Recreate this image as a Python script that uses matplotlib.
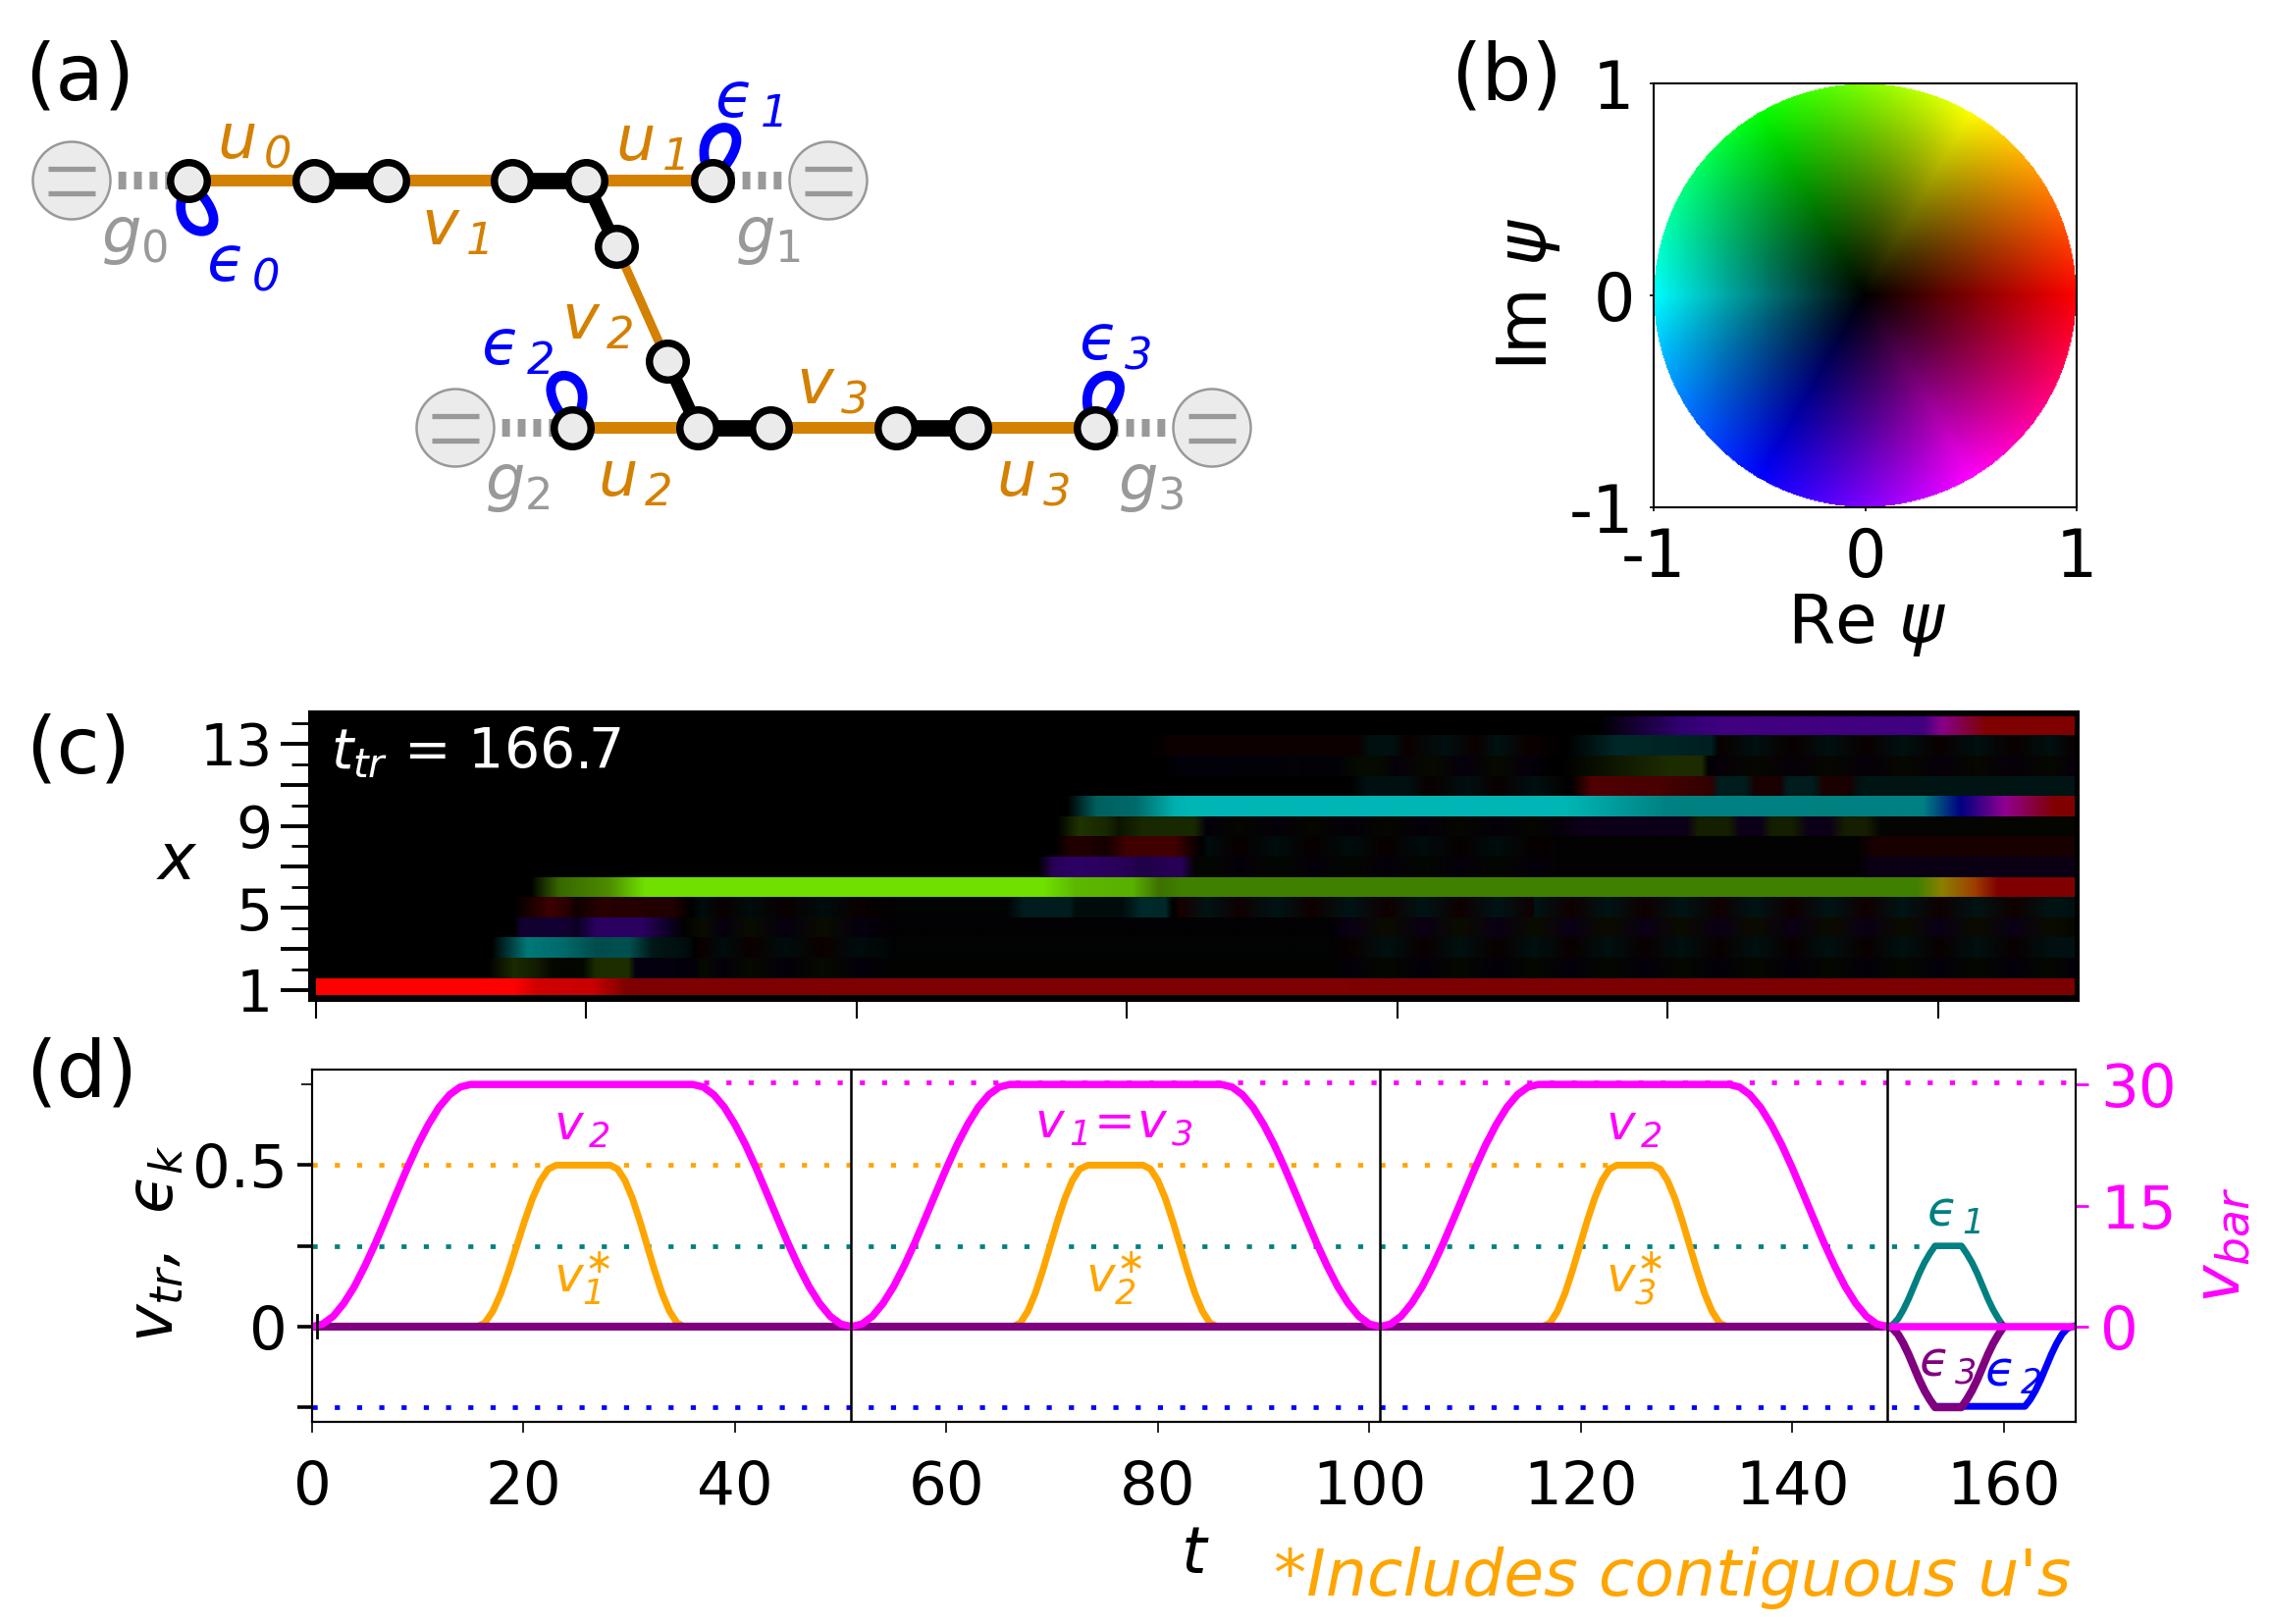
import numpy as np
import matplotlib
matplotlib.use('Agg')
import matplotlib.pyplot as plt
from matplotlib.colors import LinearSegmentedColormap, hsv_to_rgb
from matplotlib.patches import Circle, PathPatch
from matplotlib.path import Path

plt.rcParams['font.family'] = ['DejaVu Sans']
plt.rcParams['mathtext.fontset'] = 'custom'
plt.rcParams['mathtext.rm'] = 'DejaVu Sans:italic'
plt.rcParams['mathtext.it'] = 'DejaVu Sans:italic'
plt.rcParams['mathtext.sf'] = 'DejaVu Sans'

W, H = 2312, 1655

# ---- panel (a): the chain, in image pixels
node_x = [192, 320, 395, 522, 597, 726, 628, 680, 583, 711, 785, 913, 988, 1116]
node_y = [184, 184, 184, 184, 184, 184, 251, 368, 436, 436, 436, 436, 436, 436]
u_edges = [(0, 1), (2, 3), (4, 5), (8, 9), (10, 11), (12, 13)]
black_edges = [(1, 2), (3, 4), (9, 10), (11, 12)]
black_diag = [(4, 6), (7, 9)]
thin_edges = [(6, 7)]
res_x = [73, 844, 464, 1235]
res_y = [184, 184, 436, 436]
res_node = [0, 5, 8, 13]
loop_node = [0, 5, 8, 13]
loop_ctrl_y = [253, 112, 365, 365]
loop_ctrl_x = [(155, 265), (687, 797), (517, 627), (1078, 1188)]

net_labels = [r'$u_{\,0}$', r'$u_{\,1}$', r'$u_{\,2}$', r'$u_{\,3}$',
              r'$v_{\,1}$', r'$v_{\,2}$', r'$v_{\,3}$']
net_label_x = [259, 663, 647, 1053, 463, 608, 847]
net_label_y = [143, 145, 487, 487, 232, 327, 393]
eps_labels = [r'$ϵ_{\,0}$', r'$ϵ_{\,1}$', r'$ϵ_{\,2}$', r'$ϵ_{\,3}$']
eps_label_x = [247, 763, 527, 1136]
eps_label_y = [268, 102, 354, 348]
g_labels = [r'$g_\mathsf{0}$', r'$g_\mathsf{1}$', r'$g_\mathsf{2}$', r'$g_\mathsf{3}$']
g_label_x = [137, 782, 527, 1173]
g_label_y = [241, 241, 493, 493]

# ---- panel (c): colour stops along each site, (t, colour)
T_END = 166.7
k = '#000000'


def alternating(times, a, b):
    return [(t, a if i % 2 == 0 else b) for i, t in enumerate(times)]


early_t = [36.5, 38.6, 41, 44.5, 48, 51.5]
tail_t = [98, 101.5, 105, 108.5, 112, 115.5, 119, 122.5, 126, 129.5, 133, 136.5,
          140, 143.5, 147, 150.5, 154, 157.5, 161, 164.5]
late_t = [84.5, 87.5, 91, 94.5, 98, 101.5, 105, 108.5, 112, 115.5]

row_01 = [(0, '#ff0000'), (18.7, '#ff0000'), (20.9, '#d00000'), (26.2, '#c80000'), (29.3, '#800000'), (T_END, '#7c0000')]
row_02 = ([(0, k), (16.2, k), (18.7, '#1a2a00'), (20.6, '#141e00'), (22.5, '#040600'), (25.2, '#040600'),
           (26.5, '#1c2e00'), (29.6, '#1c2e00'), (30.2, '#060010'), (36, '#04000a')]
          + alternating(early_t, '#060a00', '#04000a')
          + [(55, '#020300'), (96, '#020300')]
          + alternating(tail_t, '#04000a', '#040800') + [(T_END, '#04000a')])
row_03 = ([(0, k), (16.6, k), (20, '#007878'), (23.4, '#006a6a'), (26.5, '#004c4c'), (29.6, '#005050'),
           (31.8, '#001818'), (35.2, '#000c0c'), (35.8, k)]
          + alternating(early_t, '#0c0000', '#000c0c')
          + [(55, '#020303'), (96, '#020303')]
          + alternating(tail_t, '#0a0000', '#001010') + [(T_END, '#001010')])
row_04 = ([(0, k), (18.7, k), (19.4, '#120030'), (24, '#120030'), (24.6, '#0c0020'), (26.5, '#2a0060'),
           (30.8, '#2a0060'), (33.6, '#0c0020'), (34.9, '#020200')]
          + alternating(early_t, '#0a0c00', '#06000e')
          + [(55, '#020103'), (96, '#020103')]
          + alternating(tail_t, '#0a0014', '#0a0c00') + [(T_END, '#060800')])
row_05 = ([(0, k), (18.7, k), (22.1, '#3c0000'), (23.8, '#280000'), (24.6, '#100000'), (27.1, '#280000'),
           (33.9, '#200000'), (35.5, k)]
          + alternating(early_t, '#000c0c', '#0a0000')
          + [(55, '#020303'), (65.5, '#020303'), (67, '#001c1c'), (71.5, '#001c1c'), (72, '#000c0c'), (76.4, '#000c0c'),
             (78.3, '#002a2a'), (80.5, '#002828'), (81.2, k), (82, '#180000')]
          + alternating(late_t + tail_t[5:], '#001414', '#100000') + [(T_END, '#001010')])
row_06 = [(0, k), (20.3, k), (23, '#386800'), (27.7, '#4c8c00'), (31.1, '#70e000'), (69, '#70e000'),
          (72, '#5cb800'), (77.4, '#58b000'), (80, '#3e7000'), (82, '#408000'), (151.8, '#408000'),
          (154.2, '#8a8000'), (157.2, '#a04000'), (159.5, '#800000'), (T_END, '#800000')]
row_07 = ([(0, k), (68.4, k), (69.9, '#280058'), (72.1, '#2e0066'), (76.4, '#280058'), (78.3, '#200048'),
           (82, '#280058'), (83.3, '#040404')]
          + alternating(late_t, '#030700', '#05000a')
          + [(118, '#020202'), (146, '#020202'), (147.5, '#0a0014'), (T_END, '#0a0014')])
row_08 = ([(0, k), (69.9, k), (71.5, '#200000'), (73, '#200000'), (74.9, '#140000'), (76.8, '#400000'),
           (81.4, '#400000'), (83.3, '#100000'), (84, k)]
          + alternating(late_t, '#000c0c', '#080000')
          + [(118, '#020202'), (146, '#020202'), (147.7, '#180000'), (T_END, '#180000')])
row_09 = ([(0, k), (70.2, k), (72.4, '#203400'), (74.9, '#182800'), (76.1, '#0c1400'), (78.3, '#182800'),
           (83.3, '#182800'), (84.4, '#04000c')]
          + alternating(late_t, '#05000a', '#040700')
          + [(118, '#06000c'), (120, '#0c0018'), (130, '#0c0018'), (131, '#141e00'), (134, '#141e00'),
             (135, '#0c0018'), (137, '#0c0018'), (138, '#141e00'), (140, '#141e00'), (141.5, '#0c0018'),
             (143.5, '#0c0018'), (145, '#141e00'), (147, '#141e00'), (148.5, '#040404'), (T_END, '#040600')])
row_10 = [(0, k), (71.2, k), (74, '#006060'), (77.7, '#006a6a'), (81.4, '#00b0b0'), (82.6, '#00b5b5'),
          (118.6, '#00b5b5'), (128.1, '#008080'), (152.4, '#008080'), (156, '#000080'), (160.2, '#900090'),
          (164.9, '#800000'), (T_END, '#800000')]
row_11 = ([(0, k), (98, k), (99.7, '#001010'), (103.4, '#001010'), (105.5, '#0a0000'), (109.3, '#001010'),
           (112, '#0a0000'), (115.5, '#001010')]
          + [(118, '#040404'), (119, k), (121, '#500000'), (127.5, '#480000'), (132.3, '#300000'), (133, '#001c1c'),
             (135.5, '#001c1c'), (136.5, '#1a0000'), (138.8, '#1a0000'), (139.5, '#001c1c'), (142, '#001c1c'),
             (143, '#1a0000'), (145.3, '#1a0000'), (146.5, '#001414'), (T_END, '#001414')])
row_12 = ([(0, k), (80, k), (82, '#03000a'), (97, '#020306'), (98.8, '#060a00'), (101, '#060a00'), (102.3, '#06000c'),
           (105.6, '#060a00'), (109, '#06000c'), (112, '#060a00'), (115, '#06000c'), (117, k), (118, k),
           (128.1, '#1c2c00'), (131.4, '#1c2c00'), (132, '#020202')]
          + alternating(tail_t[10:], '#06000a', '#060800') + [(T_END, '#06000a')])
row_13 = ([(0, k), (79, k), (80.8, '#0c0000'), (98.8, '#0c0000'), (100, '#001010'), (102, '#001010'), (103.5, '#0c0000'),
           (107, '#001010'), (110, '#0c0000'), (112, '#001212'), (115, '#0c0000'), (118.6, k),
           (123.4, '#002828'), (132.3, '#002020'), (133, '#020202')]
          + alternating(tail_t[10:], '#0a0000', '#001010') + [(T_END, '#0a0000')])
row_14 = [(0, k), (121.6, k), (129.3, '#300070'), (133.4, '#400080'), (152.4, '#400080'), (154.2, '#880088'),
          (158.4, '#800000'), (T_END, '#800000')]
rows = [row_01, row_02, row_03, row_04, row_05, row_06, row_07,
        row_08, row_09, row_10, row_11, row_12, row_13, row_14]
row_edges = [0.75, 1.59, 2.575, 3.56, 4.545, 5.53, 6.515, 7.5, 8.485, 9.47, 10.455, 11.44, 12.425, 13.41, 14.29]
c_xticks = [0, 25.64, 51.28, 76.92, 102.56, 128.2, 153.84]

# ---- panel (d): pulses
v_t = [0, 1, 2, 3, 4, 5, 6, 7, 8, 9, 10, 11, 12, 13, 14, 15,
       36, 37, 38, 39, 40, 41, 42, 43, 44, 45, 46, 47, 48, 49, 50, 51,
       52, 53, 54, 55, 56, 57, 58, 59, 60, 61, 62, 63, 64, 65, 66,
       86, 87, 88, 89, 90, 91, 92, 93, 94, 95, 96, 97, 98, 99, 100, 101,
       102, 103, 104, 105, 106, 107, 108, 109, 110, 111, 112, 113, 114, 115, 116,
       134, 135, 136, 137, 138, 139, 140, 141, 142, 143, 144, 145, 146, 147, 148, 149]
v_val = [0, .008, .032, .072, .124, .188, .259, .336, .414, .491, .563, .626, .679, .718, .742, .75,
         .75, .742, .718, .679, .626, .563, .491, .414, .336, .259, .188, .124, .072, .032, .008, 0,
         .008, .032, .072, .124, .188, .259, .336, .414, .491, .563, .626, .679, .718, .742, .75,
         .75, .742, .718, .679, .626, .563, .491, .414, .336, .259, .188, .124, .072, .032, .008, 0,
         .008, .032, .072, .124, .188, .259, .336, .414, .491, .563, .626, .679, .718, .742, .75,
         .75, .742, .718, .679, .626, .563, .491, .414, .336, .259, .188, .124, .072, .032, .008, 0]
v_tail_t = [149, T_END]
v_tail = [0, 0]

star_t = [0, 15.6, 16.35, 17.1, 17.85, 18.6, 19.35, 20.1, 20.85, 21.6, 22.35, 23.1,
          28.2, 28.9, 29.6, 30.3, 31, 31.7, 32.4, 33.1, 33.8, 34.5, 35.2,
          66.3, 67, 67.7, 68.4, 69.1, 69.8, 70.5, 71.2, 71.9, 72.6, 73.4,
          78.6, 79.3, 80, 80.7, 81.4, 82.1, 82.8, 83.5, 84.2, 84.9, 85.6,
          116.4, 117.1, 117.8, 118.5, 119.2, 119.9, 120.6, 121.3, 122, 122.7, 123.4,
          126.8, 127.5, 128.2, 128.9, 129.6, 130.3, 131, 131.7, 132.4, 133.1, 133.8, 149]
star_val = [0, 0, .012, .048, .103, .173, .25, .327, .397, .452, .488, .5,
            .5, .488, .452, .397, .327, .25, .173, .103, .048, .012, 0,
            0, .012, .048, .103, .173, .25, .327, .397, .452, .488, .5,
            .5, .488, .452, .397, .327, .25, .173, .103, .048, .012, 0,
            0, .012, .048, .103, .173, .25, .327, .397, .452, .488, .5,
            .5, .488, .452, .397, .327, .25, .173, .103, .048, .012, 0, 0]

e1_t = [149, 149.5, 150, 150.5, 151, 151.5, 152, 152.5, 153, 153.5, 156, 156.5, 157, 157.5, 158, 158.5, 159, 159.5, 160]
e1_val = [0, .006, .024, .052, .086, .125, .164, .198, .226, .25, .25, .226, .198, .164, .125, .086, .052, .024, 0]
e3_t = [0, 149, 149.5, 150, 150.5, 151, 151.5, 152, 152.5, 153, 153.5, 156, 156.5, 157, 157.5, 158, 158.5, 159, 159.5, 160]
e3_val = [0, 0, -.006, -.024, -.052, -.086, -.125, -.164, -.198, -.226, -.25,
          -.25, -.226, -.198, -.164, -.125, -.086, -.052, -.024, 0]
e2_t = [149, 149.5, 150, 150.5, 151, 151.5, 152, 152.5, 153, 153.5,
        162, 162.5, 163, 163.5, 164, 164.5, 165, 165.5, 166, 166.5]
e2_val = [0, -.006, -.024, -.052, -.086, -.125, -.164, -.198, -.226, -.247,
          -.247, -.226, -.198, -.164, -.125, -.086, -.052, -.024, -.006, 0]

switch_t = [51, 101, 149]
d_xticks = [0, 20, 40, 60, 80, 100, 120, 140, 160]
d_yticks = [-0.25, 0, 0.25, 0.5, 0.75]
d_yticklabels = ['', '0', '', '0.5', '']
vbar_ticks = [0, 15, 30]


def px_axes(fig, left, top, right, bottom):
    return fig.add_axes([left / W, 1 - bottom / H, (right - left) / W, (bottom - top) / H])


fig = plt.figure(figsize=(W / 100, H / 100), dpi=100)

# overlay in pixel coordinates for the schematic and the panel letters
ax_net = fig.add_axes([0, 0, 1, 1], zorder=5)
ax_net.set_xlim(0, W)
ax_net.set_ylim(H, 0)
ax_net.axis('off')
ax_net.patch.set_alpha(0)

for i, n in enumerate(res_node):
    ax_net.plot([res_x[i], node_x[n]], [res_y[i], node_y[n]], color='#999999', lw=13,
                linestyle=(0, (0.44, 0.44)), zorder=1)
    ax_net.add_patch(Circle((res_x[i], res_y[i]), 39.5, facecolor='#ebebeb', edgecolor='#999999', lw=1.8, zorder=2))
    for dy in (-12.5, 12.5):
        ax_net.plot([res_x[i] - 24, res_x[i] + 24], [res_y[i] + dy, res_y[i] + dy], color='#999999', lw=3.8,
                    solid_capstyle='butt', zorder=3)

for a, b in u_edges:
    ax_net.plot([node_x[a], node_x[b]], [node_y[a], node_y[b]], color='#d48000', lw=8.6, zorder=2)
for a, b in thin_edges:
    ax_net.plot([node_x[a], node_x[b]], [node_y[a], node_y[b]], color='#d48000', lw=6.5, zorder=2)
for a, b in black_edges:
    ax_net.plot([node_x[a], node_x[b]], [node_y[a], node_y[b]], color='black', lw=12, zorder=2)
for a, b in black_diag:
    ax_net.plot([node_x[a], node_x[b]], [node_y[a], node_y[b]], color='black', lw=9.5, zorder=2)

for i, n in enumerate(loop_node):
    x0, y0 = node_x[n], node_y[n]
    xa, xb = loop_ctrl_x[i]
    yc = loop_ctrl_y[i]
    path = Path([(x0, y0), (xa, yc), (xb, yc), (x0, y0)],
                [Path.MOVETO, Path.CURVE4, Path.CURVE4, Path.CURVE4])
    ax_net.add_patch(PathPatch(path, facecolor='none', edgecolor='#0000ff', lw=7, zorder=3))

ax_net.plot(node_x, node_y, linestyle='none', marker='o', ms=27, mfc='#ebebeb', mec='black', mew=5.4, zorder=4)

for s, x, y in zip(net_labels, net_label_x, net_label_y):
    ax_net.text(x, y, s, color='#d48000', fontsize=46, ha='center', va='center')
for s, x, y in zip(eps_labels, eps_label_x, eps_label_y):
    ax_net.text(x, y, s, color='#0000ff', fontsize=46, ha='center', va='center')
for s, x, y in zip(g_labels, g_label_x, g_label_y):
    ax_net.text(x, y, s, color='#999999', fontsize=46, ha='center', va='center')

for s, x, y in [('(a)', 25, 80), ('(b)', 1478, 80), ('(c)', 26, 765), ('(d)', 26, 1095)]:
    ax_net.text(x, y, s, fontsize=58, ha='left', va='center')

# panel (b) colour wheel: hue is the phase, value the modulus
ax_b = px_axes(fig, 1685, 85, 2116, 517)
re, im = np.meshgrid(np.linspace(-1, 1, 401), np.linspace(-1, 1, 401))
modulus = np.hypot(re, im)
hue = (np.arctan2(im, re) / (2 * np.pi)) % 1
wheel = hsv_to_rgb(np.dstack([hue, np.ones_like(hue), np.clip(modulus, 0, 1)]))
wheel[modulus > 1] = 1
ax_b.imshow(wheel, origin='lower', extent=(-1, 1, -1, 1), aspect='auto')
ax_b.set_xticks([-1, 0, 1])
ax_b.set_xticklabels(['-1', '0', '1'])
ax_b.set_yticks([-1, 0, 1])
ax_b.set_yticklabels(['-1', '0', '1'])
ax_b.tick_params(labelsize=48, length=3, width=1.2, pad=11)
ax_net.text(1902, 637, r'Re $\psi$', fontsize=50, ha='center', va='center')
ax_net.text(1558, 300, r'Im $\psi$', fontsize=50, ha='center', va='center', rotation=90)

# panel (c)
ax_c = px_axes(fig, 315, 725, 2118, 1020)
ax_c.set_facecolor('black')
gradient = np.linspace(0, 1, 1024).reshape(1, -1)
for i, stops in enumerate(rows):
    cmap = LinearSegmentedColormap.from_list('row%d' % i, [(t / T_END, c) for t, c in stops], N=1024)
    ax_c.imshow(gradient, cmap=cmap, vmin=0, vmax=1, aspect='auto', interpolation='bilinear',
                extent=(0, T_END, row_edges[i], row_edges[i + 1]))
ax_c.set_xlim(-0.65, 167.15)
ax_c.set_ylim(0.474, 14.57)
ax_c.set_xticks(c_xticks)
ax_c.set_xticklabels([])
ax_c.set_yticks([1, 3, 5, 7, 9, 11, 13])
ax_c.set_yticklabels(['1', '', '5', '', '9', '', '13'])
ax_c.set_yticks([2, 4, 6, 8, 10, 12, 14], minor=True)
ax_c.tick_params(axis='x', length=13, width=1.5)
ax_c.tick_params(axis='y', which='major', length=21, width=2.8, labelsize=42, pad=6)
ax_c.tick_params(axis='y', which='minor', length=13, width=2)
ax_net.text(180, 878, '$x$', fontsize=47, ha='center', va='center')
ax_net.text(337, 767, '$t_{tr}$ = 166.7', color='white', fontsize=41, ha='left', va='center', zorder=10)

# panel (d)
dots = (0, (1.1, 3.7))
ax_d = px_axes(fig, 318, 1090, 2115, 1449)
ax_d.plot([0, 124], [0.5, 0.5], color='#ffa500', lw=3.4, linestyle=dots)
ax_d.plot([0, 154], [0.25, 0.25], color='#008080', lw=3.4, linestyle=dots)
ax_d.plot([0, 154], [-0.25, -0.25], color='#0000ff', lw=3.4, linestyle=dots)
ax_d.plot([37, T_END], [0.755, 0.755], color='#ff00ff', lw=3.4, linestyle=dots)
for t in switch_t:
    ax_d.axvline(t, color='black', lw=1.8, zorder=6)
ax_d.plot([0.45, 0.45], [-0.035, 0.035], color='black', lw=2, zorder=6)

ax_d.plot(star_t, star_val, color='#ffa500', lw=5, zorder=2)
ax_d.plot(e1_t, e1_val, color='#008080', lw=4.8, zorder=2)
ax_d.plot(e2_t, e2_val, color='#0000ff', lw=5, zorder=2)
ax_d.plot(e3_t, e3_val, color='#800080', lw=5.8, zorder=3)
ax_d.plot(v_t, v_val, color='#ff00ff', lw=5.4, zorder=4)
ax_d.plot(v_tail_t, v_tail, color='#ff00ff', lw=5.4, zorder=4)

ax_d.set_xlim(0, 166.8)
ax_d.set_ylim(-0.295, 0.796)
ax_d.set_xticks(d_xticks)
ax_d.set_yticks(d_yticks)
ax_d.set_yticklabels(d_yticklabels)
ax_d.tick_params(axis='x', length=8, width=1.2, labelsize=44, pad=19)
ax_d.tick_params(axis='y', length=11, width=2.6, labelsize=44, pad=7)
top_tick = ax_d.yaxis.get_major_ticks()[4].tick1line
top_tick.set_markeredgewidth(1.2)
top_tick.set_markersize(8)

ax_r = ax_d.twinx()
ax_r.set_ylim(-0.295 * 40, 0.796 * 40)
ax_r.set_yticks(vbar_ticks)
ax_r.tick_params(axis='y', length=9, width=2, labelsize=44, pad=9, colors='#ff00ff')

for axis in (ax_b, ax_c, ax_d, ax_r):
    for sp in axis.spines.values():
        sp.set_linewidth(1.5)

ax_net.text(593, 1148, r'$v_{\,2}$', color='#ff00ff', fontsize=36, ha='center', va='center')
ax_net.text(1135, 1146, r'$v_{\,1}\!=\!v_{\,3}$', color='#ff00ff', fontsize=36, ha='center', va='center')
ax_net.text(1665, 1148, r'$v_{\,2}$', color='#ff00ff', fontsize=36, ha='center', va='center')
ax_net.text(593, 1303, r'$v_1^{\ast}$', color='#ffa500', fontsize=36, ha='center', va='center')
ax_net.text(1135, 1303, r'$v_2^{\ast}$', color='#ffa500', fontsize=36, ha='center', va='center')
ax_net.text(1665, 1303, r'$v_3^{\ast}$', color='#ffa500', fontsize=36, ha='center', va='center')
ax_net.text(1991, 1236, r'$ϵ_{\,1}$', color='#008080', fontsize=36, ha='center', va='center')
ax_net.text(1984, 1389, r'$ϵ_{\,3}$', color='#800080', fontsize=36, ha='center', va='center')
ax_net.text(2051, 1399, r'$ϵ_{\,2}$', color='#0000ff', fontsize=36, ha='center', va='center')
ax_net.text(158, 1267, r'$v_{tr},\ ϵ_k$', fontsize=47, ha='center', va='center', rotation=90)
ax_net.text(2264, 1269, r'$v_{bar}$', color='#ff00ff', fontsize=47, ha='center', va='center', rotation=90)
ax_net.text(1218, 1585, '$t$', fontsize=47, ha='center', va='center')
ax_net.text(2110, 1626, "*Includes contiguous u's", color='#ffa500', fontsize=47.8, style='italic',
            ha='right', va='baseline')

fig.savefig('out.png', dpi=100)
